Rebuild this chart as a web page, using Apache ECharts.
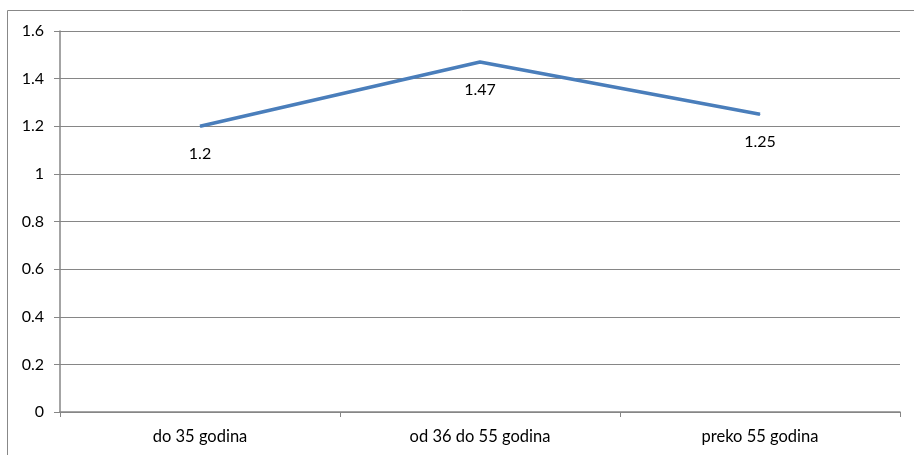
<!DOCTYPE html>
<html><head><meta charset="utf-8">
<script src="https://cdn.jsdelivr.net/npm/echarts@6/dist/echarts.min.js"></script>
<style>html,body{margin:0;padding:0;background:#fff}#c{width:914px;height:455px}</style>
</head><body><div id="c"></div>
<script>
var categories = ['do 35 godina', 'od 36 do 55 godina', 'preko 55 godina'];
var values = [1.2, 1.47, 1.25];
var yTicks = [0, 0.2, 0.4, 0.6, 0.8, 1, 1.2, 1.4, 1.6];

var chart = echarts.init(document.getElementById('c'), null, {renderer: 'canvas'});
var font = 'Lato';
chart.setOption({
  animation: false,
  graphic: [{
    type: 'rect', shape: {x: 7.5, y: 10.5, width: 940, height: 500},
    style: {fill: 'none', stroke: '#888', lineWidth: 1}, silent: true
  }],
  grid: {left: 60, right: 14, top: 31, bottom: 43, containLabel: false},
  xAxis: {
    type: 'category', data: categories, boundaryGap: true,
    axisLine: {lineStyle: {color: '#868686', width: 1.5}},
    axisTick: {show: true, length: 5, lineStyle: {color: '#868686'}},
    axisLabel: {color: '#000', fontFamily: font, fontSize: 16.5, margin: 16}
  },
  yAxis: {
    type: 'value', min: 0, max: 1.6, interval: 0.2,
    axisLine: {show: true, lineStyle: {color: '#868686', width: 1.5}},
    axisTick: {show: true, length: 6, lineStyle: {color: '#868686'}},
    splitLine: {lineStyle: {color: '#868686', width: 1}},
    axisLabel: {color: '#000', fontFamily: font, fontSize: 16, margin: 16,
      formatter: function (v) { return String(Math.round(v * 10) / 10); }}
  },
  series: [{
    type: 'line', data: values, symbol: 'circle', symbolSize: 1, showSymbol: true,
    itemStyle: {color: '#4A7EBB'},
    lineStyle: {color: '#4A7EBB', width: 3.5, cap: 'butt'},
    label: {show: true, position: 'bottom', distance: 19, color: '#000',
      fontFamily: font, fontSize: 16}
  }]
});
</script></body></html>
